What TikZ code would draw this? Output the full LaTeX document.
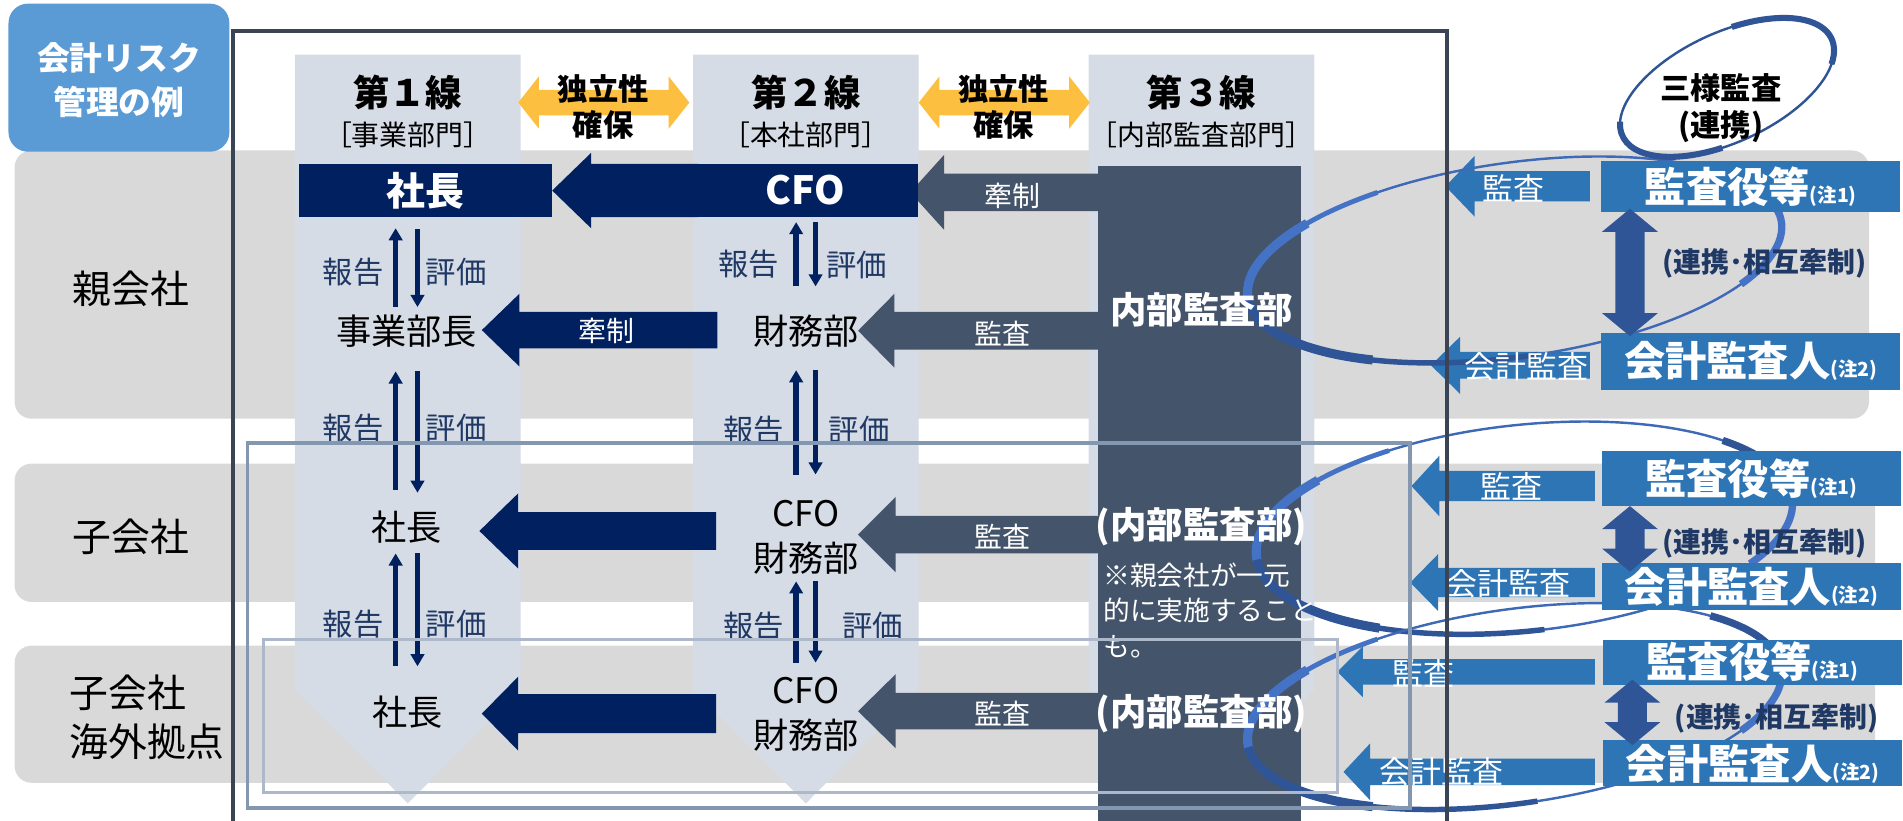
\documentclass[tikz,border=0pt]{standalone}
\usepackage{fontspec}
\setmainfont{Noto Sans CJK JP}
\usetikzlibrary{arrows.meta}
\definecolor{navy}{HTML}{002060}
\definecolor{slate}{HTML}{44546A}
\definecolor{colbg}{HTML}{D6DCE5}
\definecolor{bandc}{HTML}{D9D9D9}
\definecolor{boxblue}{HTML}{2E75B6}
\definecolor{dblue}{HTML}{2F5597}
\definecolor{rblue}{HTML}{4472C4}
\definecolor{titleblue}{HTML}{5B9BD5}
\definecolor{ylw}{HTML}{FDBF3F}
\definecolor{lbltxt}{HTML}{1F3864}
\definecolor{framec}{HTML}{3A4454}
\definecolor{fA}{HTML}{8497B0}
\definecolor{fB}{HTML}{ADB9CA}
\newcommand\FS[2]{\fontsize{#1}{#2}\selectfont}
% left block arrow: color, tip x, head back x, tail x, y centre, shaft half, head half
\newcommand\LArrow[7]{\fill[#1] (#2,#5) -- (#3,#5-#7) -- (#3,#5-#6) -- (#4,#5-#6) -- (#4,#5+#6) -- (#3,#5+#6) -- (#3,#5+#7) -- cycle;}
% horizontal double arrow: x1, x2, y centre
\newcommand\HDArrow[3]{\fill[ylw] (#1,#3) -- (#1+17,#3-21.5) -- (#1+17,#3-10.5) -- (#2-17,#3-10.5) -- (#2-17,#3-21.5) -- (#2,#3) -- (#2-17,#3+21.5) -- (#2-17,#3+10.5) -- (#1+17,#3+10.5) -- (#1+17,#3+21.5) -- cycle;}
% vertical double arrow: x, y top, y bottom
\newcommand\VDArrow[3]{\fill[dblue] (#1,#2) -- (#1+23,#2+19) -- (#1+12,#2+19) -- (#1+12,#3-19) -- (#1+23,#3-19) -- (#1,#3) -- (#1-23,#3-19) -- (#1-12,#3-19) -- (#1-12,#2+19) -- (#1-23,#2+19) -- cycle;}
% ring: cx, cy, a, b, rotation
\newcommand\BigRing[5]{%
 \begin{scope}[shift={(#1,#2)}, rotate=#5]
  \draw[rblue!70!dblue, line width=2pt] (0,0) ellipse [x radius=#3pt, y radius=#4pt];
  \draw[rblue, line width=4pt] (118:#3pt and #4pt) arc[start angle=118, end angle=140, x radius=#3pt, y radius=#4pt];
  \draw[rblue, line width=7.5pt] (138:#3pt and #4pt) arc[start angle=138, end angle=184, x radius=#3pt, y radius=#4pt];
  \draw[dblue, line width=7.5pt] (182:#3pt and #4pt) arc[start angle=182, end angle=235, x radius=#3pt, y radius=#4pt];
  \draw[dblue, line width=4.5pt] (233:#3pt and #4pt) arc[start angle=233, end angle=272, x radius=#3pt, y radius=#4pt];
  \draw[dblue, line width=6pt] (5:#3pt and #4pt) arc[start angle=5, end angle=40, x radius=#3pt, y radius=#4pt];
  \draw[rblue, line width=6pt] (-35:#3pt and #4pt) arc[start angle=-35, end angle=7, x radius=#3pt, y radius=#4pt];
 \end{scope}}
\tikzset{
 rep/.style={navy, line width=4.5pt, -{Triangle[width=11pt,length=10pt]}},
 lbl/.style={font=\FS{25}{29}, text=lbltxt},
 wlbl/.style={font=\FS{23}{27}, text=white},
 blbl/.style={font=\FS{25.5}{29}, text=white},
 plain/.style={font=\FS{29}{37}, align=center},
 hdr/.style={font=\FS{30}{36}\bfseries},
 sub/.style={font=\FS{23}{27}},
 bluebox/.style={fill=boxblue, text=white, inner sep=0pt, minimum width=246pt},
 navybox/.style={fill=navy, text=white, inner sep=0pt, minimum height=44pt, font=\FS{32}{36}\bfseries},
 audit/.style={text=white, font=\FS{30}{36}\bfseries},
 coop/.style={text=lbltxt, font=\FS{23}{27}\bfseries},
 region/.style={font=\FS{32}{41}},
}
\begin{document}
\begin{tikzpicture}[x=1pt,y=-1pt, every node/.style={inner sep=0pt}]
\useasboundingbox (0,0) rectangle (1568,676);
% bands
\fill[bandc, rounded corners=14pt] (12,124) rectangle (1540,345);
\fill[bandc, rounded corners=14pt] (12,382) rectangle (1545,496);
\fill[bandc, rounded corners=14pt] (12,532) rectangle (1545,645);
\fill[titleblue, rounded corners=16pt] (7,3) rectangle (189,125);
\node[font=\FS{27}{36}\bfseries, text=white, align=center] (title) at (98,66) {会計リスク\\管理の例};
\node[region] (oya) at (108,238) {親会社};
\node[region] (ko) at (108,442) {子会社};
\node[region, align=left, anchor=west] (kaigai) at (57,591) {子会社\\海外拠点};
% columns
\foreach \cx in {336,664,990}
  \fill[colbg] (\cx-93,45) -- (\cx+93,45) -- (\cx+93,568) -- (\cx,662) -- (\cx-93,568) -- cycle;
\fill[slate] (905,137) rectangle (1072,680);
% headers
\node[hdr] (h1) at (336,76) {第１線};
\node[sub] (s1) at (336,111) {［事業部門］};
\node[hdr] (h2) at (664,76) {第２線};
\node[sub] (s2) at (664,111) {［本社部門］};
\node[hdr] (h3) at (990,76) {第３線};
\node[sub] (s3) at (990,111) {［内部監査部門］};
\HDArrow{427}{568}{84.5}
\HDArrow{757}{898}{84.5}
\node[font=\FS{25}{30}\bfseries, align=center] (ind1) at (497,88) {独立性\\確保};
\node[font=\FS{25}{30}\bfseries, align=center] (ind2) at (827,88) {独立性\\確保};
% block arrows
\LArrow{navy}{455}{487}{575}{157}{22}{31}
\LArrow{navy}{397}{428}{591}{272}{15}{30}
\LArrow{navy}{395}{427}{590}{437.5}{15.5}{31}
\LArrow{navy}{397}{427}{590}{588}{16}{30.5}
\LArrow{slate}{750}{778}{906}{158.5}{15.5}{31}
\LArrow{slate}{707}{737}{906}{272.5}{15.5}{30.5}
\LArrow{slate}{707}{738}{906}{440.5}{15.5}{31}
\LArrow{slate}{707}{738}{906}{586}{15}{30.5}
\LArrow{boxblue}{1191}{1215}{1310}{153.5}{12.5}{25}
\LArrow{boxblue}{1179}{1203}{1310}{301}{11}{23.5}
\LArrow{boxblue}{1163}{1186}{1314}{400.5}{12.5}{25}
\LArrow{boxblue}{1162}{1185}{1314}{480}{12}{23.5}
\LArrow{boxblue}{1102}{1123}{1314}{553.5}{10.5}{21}
\LArrow{boxblue}{1107}{1129}{1314}{636}{11}{23.5}
% navy boxes
\node[navybox, minimum width=209pt] (pres) at (350.5,157) {社長};
\node[navybox, minimum width=185pt] (cfo) at (663.5,157) {CFO};
% rings
\BigRing{1248}{214}{222}{80}{8}
\BigRing{1256}{435}{222}{85}{6}
\BigRing{1248}{582}{222}{80}{8}
\begin{scope}[shift={(1423,72)}, rotate=25]
  \draw[dblue, line width=2pt] (0,0) ellipse [x radius=95pt, y radius=45pt];
  \draw[dblue, line width=5pt] (-25:95pt and 45pt) arc[start angle=-25, end angle=75, x radius=95pt, y radius=45pt];
  \draw[dblue, line width=5pt] (165:95pt and 45pt) arc[start angle=165, end angle=255, x radius=95pt, y radius=45pt];
\end{scope}
\node[font=\FS{25}{30}\bfseries, align=center] (sanyo) at (1418,89) {三様監査\\(連携)};
% blue boxes
\node[bluebox, minimum height=42pt] (ky1) at (1442.5,154) {{\FS{34}{36}\bfseries 監査役等}{\FS{16}{18}\bfseries (注1)}};
\node[bluebox, minimum height=47pt] (ka1) at (1442.5,297.5) {{\FS{34}{36}\bfseries 会計監査人}{\FS{16}{18}\bfseries (注2)}};
\node[bluebox, minimum height=45pt] (ky2) at (1443,394.5) {{\FS{34}{36}\bfseries 監査役等}{\FS{16}{18}\bfseries (注1)}};
\node[bluebox, minimum height=39pt] (ka2) at (1443,483.5) {{\FS{34}{36}\bfseries 会計監査人}{\FS{16}{18}\bfseries (注2)}};
\node[bluebox, minimum height=37pt] (ky3) at (1444,545.5) {{\FS{34}{36}\bfseries 監査役等}{\FS{16}{18}\bfseries (注1)}};
\node[bluebox, minimum height=38pt] (ka3) at (1444,629) {{\FS{34}{36}\bfseries 会計監査人}{\FS{16}{18}\bfseries (注2)}};
\VDArrow{1343}{172}{277}
\VDArrow{1343}{417}{471}
\VDArrow{1345}{560}{614}
\node[coop] (c1) at (1454,217) {(連携･相互牽制)};
\node[coop] (c2) at (1454,448) {(連携･相互牽制)};
\node[coop] (c3) at (1464,592) {(連携･相互牽制)};
% report / evaluate arrows
\draw[rep] (326,253) -- (326,188);
\draw[rep] (344,189) -- (344,253);
\draw[rep] (326,404) -- (326,306);
\draw[rep] (344,306) -- (344,406);
\draw[rep] (326,549) -- (326,456);
\draw[rep] (344,456) -- (344,549);
\draw[rep] (656,236) -- (656,183);
\draw[rep] (672,183) -- (672,236);
\draw[rep] (656,391) -- (656,305);
\draw[rep] (672,305) -- (672,391);
\draw[rep] (656,546) -- (656,479);
\draw[rep] (672,479) -- (672,546);
\node[lbl] (rp1) at (291,224) {報告};
\node[lbl] (ev1) at (376,224) {評価};
\node[lbl] (rp2) at (291,353) {報告};
\node[lbl] (ev2) at (376,353) {評価};
\node[lbl] (rp3) at (291,514) {報告};
\node[lbl] (ev3) at (376,514) {評価};
\node[lbl] (rp4) at (617,218) {報告};
\node[lbl] (ev4) at (706,218) {評価};
\node[lbl] (rp5) at (621,354) {報告};
\node[lbl] (ev5) at (708,354) {評価};
\node[lbl] (rp6) at (621,516) {報告};
\node[lbl] (ev6) at (719,516) {評価};
% plain texts
\node[plain] (jig) at (335,273) {事業部長};
\node[plain] (zai) at (664,273) {財務部};
\node[plain] (pr2) at (335,434) {社長};
\node[plain] (pr3) at (336,587) {社長};
\node[plain] (cf2) at (664,442.5) {CFO\\財務部};
\node[plain] (cf3) at (664,588.5) {CFO\\財務部};
\node[audit] (ia1) at (990,255) {内部監査部};
\node[audit] (ia2) at (990,434) {(内部監査部)};
\node[audit] (ia3) at (990,588) {(内部監査部)};
\node[text=white, font=\FS{22}{29}, align=left, anchor=west] (note) at (909,503) {※親会社が一元\\的に実施すること\\も。};
% arrow labels
\node[wlbl] (l1) at (500,273) {牽制};
\node[wlbl] (l2) at (834,161) {牽制};
\node[wlbl] (l3) at (826,275) {監査};
\node[wlbl] (l4) at (826,442) {監査};
\node[wlbl] (l5) at (826,588) {監査};
\node[blbl] (b1) at (1247,155) {監査};
\node[blbl] (b2) at (1258,302) {会計監査};
\node[blbl] (b3) at (1245,401) {監査};
\node[blbl] (b4) at (1243,481) {会計監査};
\node[blbl] (b5) at (1173,555) {監査};
\node[blbl] (b6) at (1188,636) {会計監査};
% frames
\draw[fA, line width=3pt] (204,365) rectangle (1162,666);
\draw[fB, line width=3pt] (217,527) rectangle (1102,653);
\draw[framec, line width=3pt] (192,685) -- (192,25.5) -- (1192,25.5) -- (1192,685);
\end{tikzpicture}
\end{document}
